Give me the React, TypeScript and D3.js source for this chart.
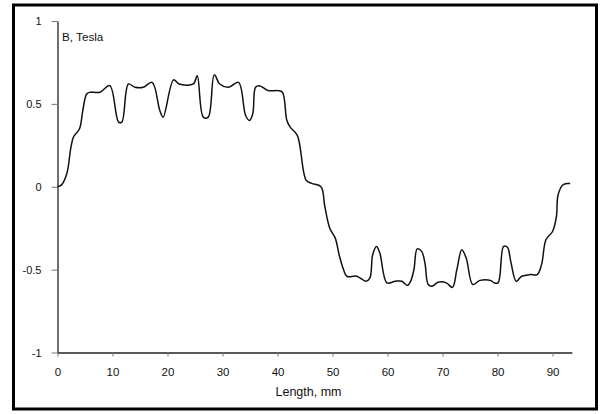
import React, { useEffect, useRef } from "react";
import * as d3 from "d3";

// position along the core, mm
const lengthMm = [
  0, 0.7, 1.7, 2.4, 2.9, 4.0, 4.6, 5.3, 5.9, 7.7, 9.5, 11.1, 11.7, 12.9, 14.1,
  15.6, 17.2, 18.6, 19.2, 21.1, 22.1, 24.7, 25.4, 26.5, 27.4, 28.5, 29.5, 31.1,
  32.9, 34.2, 34.9, 35.5, 36.0, 36.7, 38.3, 40.1, 40.9, 41.7, 42.3, 43.6, 45.2,
  46.2, 47.9, 48.6, 49.5, 50.5, 51.2, 52.0, 52.6, 54.4, 56.1, 56.8, 57.3, 58.0,
  58.6, 59.9, 61.4, 62.6, 63.6, 64.2, 64.8, 65.4, 66.2, 66.8, 67.4, 68.1, 69.2,
  70.7, 71.8, 72.6, 73.5, 74.3, 75.5, 76.8, 78.7, 79.4, 80.1, 81.1, 81.8, 82.4,
  83.4, 84.4, 85.9, 87.2, 88.0, 88.8, 90.0, 90.7, 91.0, 91.9, 92.8, 93.2,
];

// flux density, Tesla
const fluxTesla = [
  0, 0.01, 0.08, 0.23, 0.3, 0.35, 0.46, 0.56, 0.57, 0.57, 0.61, 0.39, 0.39,
  0.62, 0.6, 0.6, 0.63, 0.46, 0.42, 0.645, 0.62, 0.62, 0.67, 0.42, 0.42, 0.675,
  0.62, 0.6, 0.63, 0.43, 0.4, 0.44, 0.6, 0.61, 0.58, 0.58, 0.57, 0.4, 0.36,
  0.31, 0.04, 0.02, 0.0, -0.12, -0.25, -0.31, -0.41, -0.5, -0.54, -0.54, -0.57,
  -0.55, -0.41, -0.36, -0.4, -0.58, -0.57, -0.57, -0.595, -0.57, -0.5, -0.375,
  -0.39, -0.46, -0.59, -0.6, -0.576, -0.58, -0.607, -0.5, -0.38, -0.43, -0.59,
  -0.565, -0.565, -0.58, -0.58, -0.36, -0.365, -0.45, -0.57, -0.54, -0.53,
  -0.53, -0.47, -0.32, -0.27, -0.18, -0.05, 0.012, 0.02, 0.02,
];

const xTicks = [0, 10, 20, 30, 40, 50, 60, 70, 80, 90];
const yTicks = [1, 0.5, 0, -0.5, -1];

const W = 603;
const H = 414;
const FONT = "'Liberation Sans', Arial, sans-serif";

export default function App() {
  const ref = useRef<SVGSVGElement>(null);

  useEffect(() => {
    if (!ref.current) return;
    const svg = d3.select(ref.current);
    svg.selectAll("*").remove();

    const x = d3.scaleLinear().domain([0, 93.5]).range([57.5, 571.8]);
    const y = d3.scaleLinear().domain([-1, 1]).range([352.5, 21]);

    // outer frame
    svg
      .append("rect")
      .attr("x", 13.5)
      .attr("y", 5)
      .attr("width", 583)
      .attr("height", 404)
      .attr("fill", "none")
      .attr("stroke", "#000")
      .attr("stroke-width", 3);

    // x-axis
    const gx = svg
      .append("g")
      .attr("transform", `translate(0,${y(-1)})`)
      .call(d3.axisBottom(x).tickValues(xTicks).tickSize(4).tickPadding(11).tickSizeOuter(0));
    gx.select(".domain").attr("stroke", "#222").attr("stroke-width", 1.3);
    gx.selectAll(".tick line").attr("stroke", "#777");
    gx.selectAll("text")
      .style("font-family", FONT)
      .style("font-size", "11.5px")
      .attr("fill", "#111");

    // y-axis
    const gy = svg
      .append("g")
      .attr("transform", `translate(${x(0)},0)`)
      .call(
        d3
          .axisLeft(y)
          .tickValues(yTicks)
          .tickSize(6)
          .tickPadding(10)
          .tickSizeOuter(0)
          .tickFormat((d) => String(d))
      );
    gy.select(".domain").attr("stroke", "#222").attr("stroke-width", 1.3);
    gy.selectAll(".tick line").attr("stroke", "#777");
    gy.selectAll("text")
      .style("font-family", FONT)
      .style("font-size", "11px")
      .attr("fill", "#111");

    // curve (smoothed, like the original spreadsheet plot)
    const pts = lengthMm.map((l, i) => [l, fluxTesla[i]] as [number, number]);
    svg
      .append("path")
      .datum(pts)
      .attr("fill", "none")
      .attr("stroke", "#111")
      .attr("stroke-width", 1.5)
      .attr("stroke-linejoin", "round")
      .attr(
        "d",
        d3
          .line<[number, number]>()
          .x((d) => x(d[0]))
          .y((d) => y(d[1]))
          .curve(d3.curveCatmullRom.alpha(0.5))
      );

    // axis titles
    svg
      .append("text")
      .attr("x", 62)
      .attr("y", 41)
      .style("font-family", FONT)
      .style("font-size", "11.7px")
      .attr("fill", "#111")
      .text("B, Tesla");

    svg
      .append("text")
      .attr("x", 308.5)
      .attr("y", 396)
      .attr("text-anchor", "middle")
      .style("font-family", FONT)
      .style("font-size", "12.5px")
      .attr("fill", "#111")
      .text("Length, mm");
  }, []);

  return (
    <svg
      ref={ref}
      width={W}
      height={H}
      style={{ position: "absolute", left: 0, top: 0, background: "#fff" }}
    />
  );
}
